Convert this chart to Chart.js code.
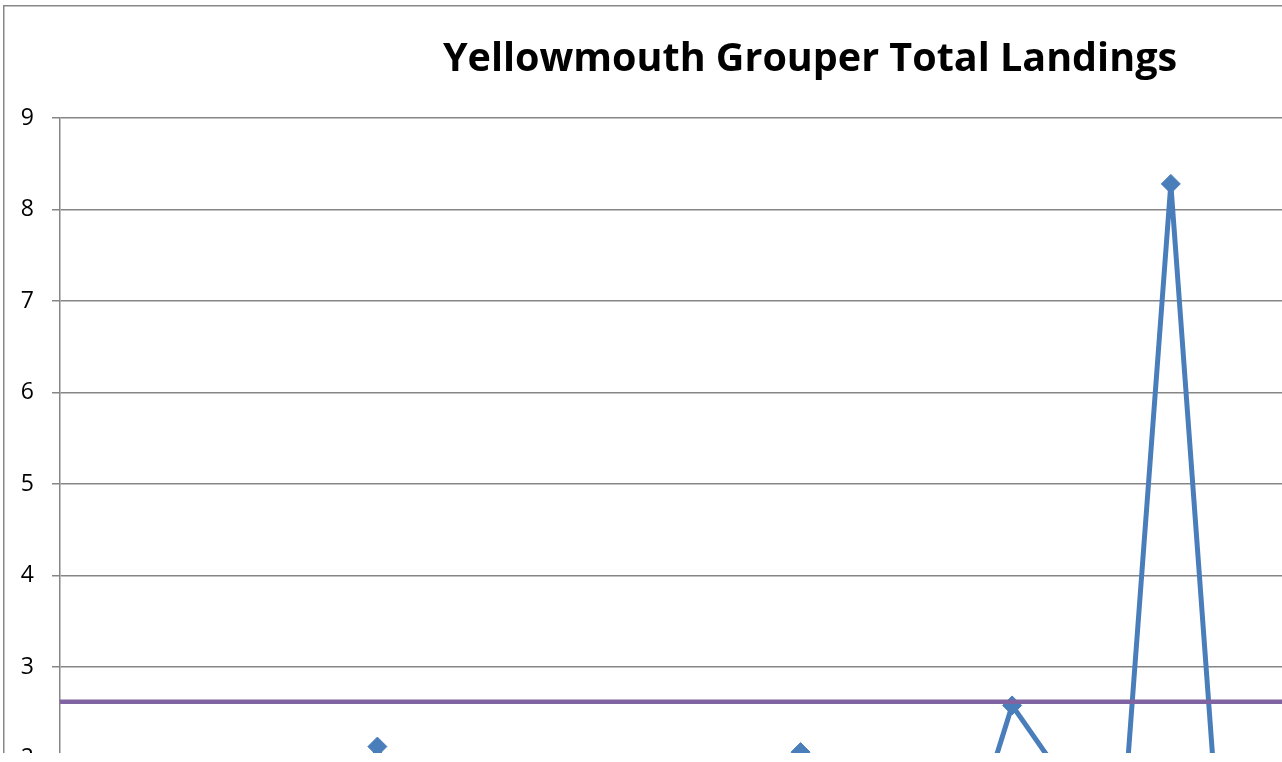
<!DOCTYPE html>
<html>
<head>
<meta charset="utf-8">
<script src="https://cdn.jsdelivr.net/npm/chart.js@4"></script>
<style>
  html, body { margin: 0; padding: 0; background: #fff; overflow: hidden; }
  #clip { position: absolute; left: 0; top: 0; width: 1282px; height: 753px; overflow: hidden; background: #fff; }
  #c { position: absolute; left: 0; top: 0; }
</style>
</head>
<body>
<div id="clip"><canvas id="c" width="1643" height="1000"></canvas></div>
<script>
const titleText = 'Yellowmouth Grouper Total Landings';
const categories = ['1981','1982','1983','1984','1985','1986','1987','1988','1989','1990',
                    '1991','1992','1993','1994','1995','1996','1997','1998','1999','2000',
                    '2001','2002','2003','2004','2005','2006','2007','2008','2009','2010'];
const landings = [0.45, 0.9, 0.3, 1.2, 0.6, 0.25, 2.13, 0.4, 1.1, 0.7,
                  1.5, 0.35, 0.8, 0.5, 2.07, 0.3, 0.95, 0.73, 2.58, 1.75,
                  0.52, 8.28, 0.36, 0.6, 1.4, 0.9, 3.5, 0.8, 1.2, 0.5];
const meanValue = 2.62;
const meanLine = categories.map(() => meanValue);
const yTicks = [0, 1, 2, 3, 4, 5, 6, 7, 8, 9];

const borderPlugin = {
  id: 'outerBorder',
  beforeDraw(chart) {
    const ctx = chart.ctx;
    ctx.save();
    ctx.fillStyle = '#fff';
    ctx.fillRect(0, 0, chart.width, chart.height);
    ctx.strokeStyle = '#888888';
    ctx.lineWidth = 1.5;
    ctx.strokeRect(3.75, 5.75, chart.width - 30, chart.height - 10);
    ctx.restore();
  }
};

new Chart(document.getElementById('c'), {
  type: 'line',
  data: {
    labels: categories,
    datasets: [
      {
        label: 'Total Landings',
        data: landings,
        borderColor: '#4a7ebb',
        backgroundColor: '#4a7ebb',
        borderWidth: 5,
        pointStyle: 'rectRot',
        pointRadius: 9.5,
        pointBorderWidth: 1,
        pointBackgroundColor: '#4a7ebb',
        pointBorderColor: '#4a7ebb',
        tension: 0,
        order: 1
      },
      {
        label: 'Mean',
        data: meanLine,
        borderColor: '#8064a2',
        backgroundColor: '#8064a2',
        borderWidth: 4.5,
        pointRadius: 0,
        tension: 0,
        order: 0
      }
    ]
  },
  options: {
    responsive: false,
    animation: false,
    events: [],
    layout: { padding: { top: 0, left: 0, right: 23, bottom: 18.5 } },
    plugins: {
      legend: { display: false },
      tooltip: { enabled: false },
      title: {
        display: true,
        text: titleText,
        color: '#000',
        font: { family: 'Open Sans', size: 39.5, weight: 'bold' },
        padding: { top: 36.3, bottom: 34.3 }
      }
    },
    scales: {
      x: {
        offset: false,
        grid: { display: false },
        border: { display: true, color: '#868686', width: 1.5 },
        ticks: { color: '#000', font: { family: 'Open Sans', size: 22 }, maxRotation: 0, autoSkip: false },
        afterFit(s) { s.height = 40; s.paddingLeft = 0; s.paddingRight = 0; }
      },
      y: {
        min: 0,
        max: 9,
        afterBuildTicks(s) { s.ticks = yTicks.map(v => ({ value: v })); },
        grid: { color: '#868686', lineWidth: 1.5, tickLength: 8, drawTicks: true },
        border: { display: true, color: '#868686', width: 1.5 },
        ticks: { color: '#000', font: { family: 'Open Sans', size: 23 }, padding: 18 },
        afterFit(s) { s.width = 60; }
      },
      ySpacer: {
        position: 'right',
        min: 0,
        max: 9,
        grid: { display: false, drawTicks: false },
        border: { display: false },
        ticks: { display: false },
        afterFit(s) { s.width = 26; }
      }
    }
  },
  plugins: [borderPlugin]
});
</script>
</body>
</html>
